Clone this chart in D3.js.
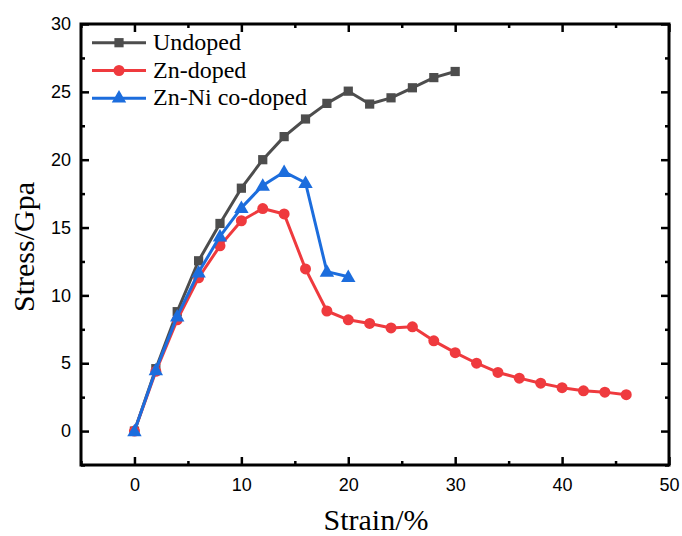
<!DOCTYPE html>
<html>
<head>
<meta charset="utf-8">
<script src="https://cdn.jsdelivr.net/npm/d3@7"></script>
<style>
  body { margin: 0; background: #fff; }
  .tick text { font-family: "Liberation Sans", Arial, sans-serif; font-size: 18px; fill: #000; }
</style>
</head>
<body>
<script>
// data
const strainUndoped = [0, 2, 4, 6, 8, 10, 12, 14, 16, 18, 20, 22, 24, 26, 28, 30];
const stressUndoped = [0, 4.6, 8.8, 12.55, 15.3, 17.9, 20.0, 21.7, 23.0, 24.15, 25.05, 24.1, 24.56, 25.3, 26.05, 26.5];

const strainZn = [0, 2, 4, 6, 8, 10, 12, 14, 16, 18, 20, 22, 24, 26, 28, 30, 32, 34, 36, 38, 40, 42, 44, 46];
const stressZn = [0, 4.4, 8.2, 11.3, 13.65, 15.5, 16.4, 16.0, 11.95, 8.85, 8.2, 7.93, 7.6, 7.68, 6.65, 5.78, 5.0, 4.32, 3.9, 3.53, 3.2, 2.97, 2.87, 2.68];

const strainZnNi = [0, 2, 4, 6, 8, 10, 12, 14, 16, 18, 20];
const stressZnNi = [0, 4.5, 8.45, 11.7, 14.35, 16.45, 18.1, 19.1, 18.3, 11.75, 11.37];

const seriesNames = ['Undoped', 'Zn-doped', 'Zn-Ni co-doped'];
const xTicks = [0, 10, 20, 30, 40, 50];
const yTicks = [0, 5, 10, 15, 20, 25, 30];

// set variables
const w = 682;
const h = 536;
const pL = 81, pR = 669, pT = 24, pB = 465;

const series = [
  { name: seriesNames[0], x: strainUndoped, y: stressUndoped, color: '#4d4d4d', symbol: d3.symbolSquare, size: 85 },
  { name: seriesNames[1], x: strainZn, y: stressZn, color: '#ef3a3e', symbol: d3.symbolCircle, size: 95 },
  { name: seriesNames[2], x: strainZnNi, y: stressZnNi, color: '#1c6ddd', symbol: d3.symbolTriangle, size: 90 }
];

const xScale = d3.scaleLinear().domain([-5, 50]).range([pL, pR]);
const yScale = d3.scaleLinear().domain([-2.5, 30]).range([pB, pT]);

const svg = d3.select('body').append('svg')
  .attr('width', w)
  .attr('height', h);

// axes: ticks point inward, minor ticks in between
function styleAxis(g) {
  g.select('.domain').remove();
  g.selectAll('.tick line').attr('stroke', '#000').attr('stroke-width', 2.5);
}

const xMinor = d3.range(-5, 50, 5).filter(d => d % 10 !== 0);
const yMinor = d3.range(-2.5, 30, 2.5).filter(d => d % 5 !== 0);

svg.append('g').attr('transform', `translate(0,${pB})`)
  .call(d3.axisBottom(xScale).tickValues(xTicks).tickSizeInner(-8).tickSizeOuter(0).tickPadding(13))
  .call(styleAxis);
svg.append('g').attr('transform', `translate(0,${pB})`)
  .call(d3.axisBottom(xScale).tickValues(xMinor).tickSizeInner(-4).tickSizeOuter(0).tickFormat(''))
  .call(styleAxis);
svg.append('g').attr('transform', `translate(0,${pT})`)
  .call(d3.axisTop(xScale).tickValues(xTicks).tickSizeInner(-8).tickSizeOuter(0).tickFormat(''))
  .call(styleAxis);
svg.append('g').attr('transform', `translate(0,${pT})`)
  .call(d3.axisTop(xScale).tickValues(xMinor).tickSizeInner(-4).tickSizeOuter(0).tickFormat(''))
  .call(styleAxis);

svg.append('g').attr('transform', `translate(${pL},0)`)
  .call(d3.axisLeft(yScale).tickValues(yTicks).tickSizeInner(-8).tickSizeOuter(0).tickPadding(10))
  .call(styleAxis);
svg.append('g').attr('transform', `translate(${pL},0)`)
  .call(d3.axisLeft(yScale).tickValues(yMinor).tickSizeInner(-4).tickSizeOuter(0).tickFormat(''))
  .call(styleAxis);
svg.append('g').attr('transform', `translate(${pR},0)`)
  .call(d3.axisRight(yScale).tickValues(yTicks).tickSizeInner(-8).tickSizeOuter(0).tickFormat(''))
  .call(styleAxis);
svg.append('g').attr('transform', `translate(${pR},0)`)
  .call(d3.axisRight(yScale).tickValues(yMinor).tickSizeInner(-4).tickSizeOuter(0).tickFormat(''))
  .call(styleAxis);

// frame
svg.append('rect')
  .attr('x', pL).attr('y', pT)
  .attr('width', pR - pL).attr('height', pB - pT)
  .attr('fill', 'none').attr('stroke', '#000').attr('stroke-width', 3);

// lines and markers
const line = d3.line().x(d => xScale(d[0])).y(d => yScale(d[1]));

series.forEach(s => {
  const pts = s.x.map((v, i) => [v, s.y[i]]);
  svg.append('path')
    .datum(pts)
    .attr('d', line)
    .attr('fill', 'none')
    .attr('stroke', s.color)
    .attr('stroke-width', 3)
    .attr('stroke-linejoin', 'round');
  svg.append('g').selectAll('path')
    .data(pts)
    .enter()
    .append('path')
    .attr('d', d3.symbol().type(s.symbol).size(s.size))
    .attr('transform', d => `translate(${xScale(d[0])},${yScale(d[1]) + (s.symbol === d3.symbolTriangle ? 1 : 0)})`)
    .attr('fill', s.color);
});

// legend
const legend = svg.append('g');
series.forEach((s, i) => {
  const y = 42.7 + i * 27.8;
  legend.append('line')
    .attr('x1', 92).attr('x2', 146).attr('y1', y).attr('y2', y)
    .attr('stroke', s.color).attr('stroke-width', 3);
  legend.append('path')
    .attr('d', d3.symbol().type(s.symbol).size(s.size))
    .attr('transform', `translate(119,${y})`)
    .attr('fill', s.color);
  legend.append('text')
    .attr('x', 153).attr('y', y + 7)
    .style('font-family', '"Liberation Serif", "Times New Roman", serif')
    .style('font-size', '24px')
    .text(s.name);
});

// axis titles
svg.append('text')
  .attr('x', 376)
  .attr('y', 530)
  .attr('text-anchor', 'middle')
  .style('font-family', '"Liberation Serif", "Times New Roman", serif')
  .style('font-size', '30px')
  .text('Strain/%');

svg.append('text')
  .attr('transform', `translate(34,247) rotate(-90)`)
  .attr('text-anchor', 'middle')
  .style('font-family', '"Liberation Serif", "Times New Roman", serif')
  .style('font-size', '30px')
  .text('Stress/Gpa');
</script>
</body>
</html>
